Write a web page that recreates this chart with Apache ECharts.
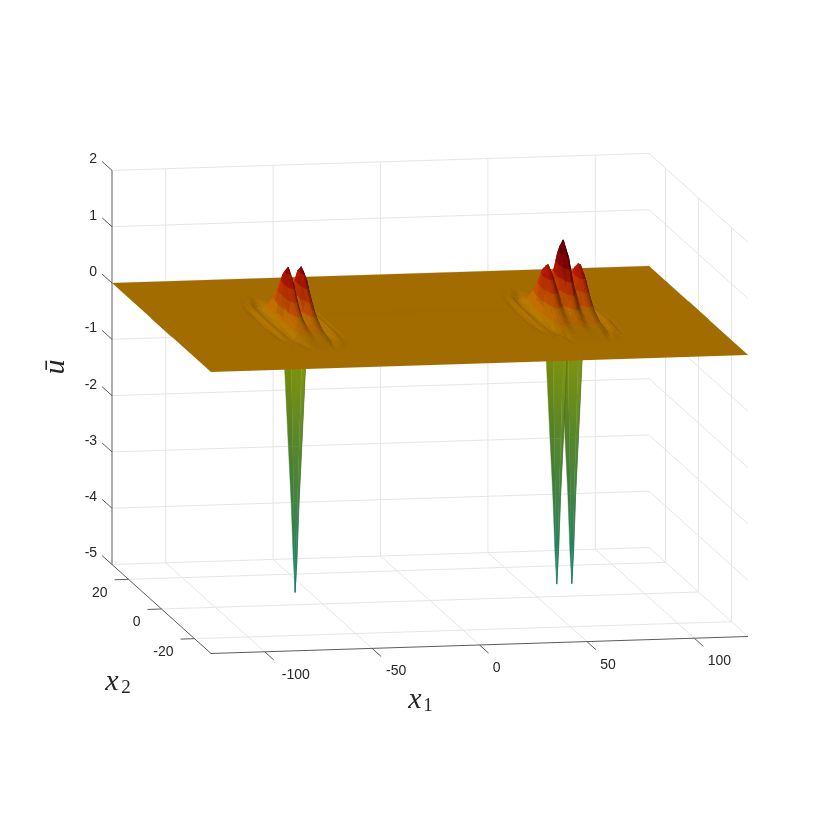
<!DOCTYPE html>
<html>
<head>
<meta charset="utf-8">
<script src="https://cdn.jsdelivr.net/npm/echarts@6/dist/echarts.min.js"></script>
<style>
  html, body { margin: 0; background: #fff; }
  #main { width: 830px; height: 830px; }
</style>
</head>
<body>
<div id="main"></div>
<script>
var x1Ticks = [-100, -50, 0, 50, 100];
var x1LabelNudge = [22, 15, 8, 12, 16];
var x2Ticks = [-20, 0, 20];
var uTicks = [-5, -4, -3, -2, -1, 0, 1, 2];

// pulse heights in hundredths of u.
// rows: |x2| = 0, 2, 4 ... 16, columns: |x1 - centre| = 0, 1, 2 ...
var leftCentre = -63;
var leftPulse = [
  [34, 52, 84, 100, 92, 70, 40, 16, 2, -4, -6, -1, 4, 4, -1, -4, -1],
  [30, 46, 74, 88, 82, 62, 36, 14, 1, -4, -6, -1, 4, 4, -1, -4, -1],
  [22, 33, 52, 62, 58, 46, 27, 11, 0, -4, -6, -1, 4, 4, -1, -3, -1],
  [16, 23, 33, 40, 38, 31, 20, 9, -1, -5, -5, 0, 4, 3, -2, -3, 0],
  [12, 16, 21, 24, 23, 19, 13, 6, -2, -6, -4, 1, 4, 2, -2, -2, 0],
  [9, 11, 13, 15, 14, 11, 8, 4, -3, -5, -3, 1, 3, 1, -2, -1, 0],
  [5, 6, 8, 9, 8, 6, 4, -2, -3, -4, -1, 2, 2, 0, -1, 0, 0],
  [3, 3, 4, 4, 4, 3, -2, -3, -2, 1, 2, 1, -1, 0, 0, 0, 0],
  [1, 1, 1, 1, 1, -1, -2, -1, 1, 1, 0, 0, 0, 0, 0, 0, 0]
];
var rightCentre = 62;
var rightPulse = [
  [133, 120, 92, 66, 56, 64, 80, 90, 88, 74, 50, 24, 6, -3, -5, -2, 3, 4, 0, -3, -1],
  [117, 106, 81, 58, 49, 56, 70, 79, 77, 65, 44, 21, 5, -3, -5, -2, 3, 4, 0, -3, -1],
  [82, 74, 57, 41, 35, 40, 50, 56, 55, 46, 31, 15, 3, -3, -6, -2, 3, 4, 0, -3, -1],
  [51, 46, 35, 26, 23, 26, 31, 35, 34, 29, 20, 10, 2, -3, -5, -1, 3, 3, -1, -2, 0],
  [29, 27, 21, 16, 14, 16, 19, 22, 21, 17, 12, 6, -1, -5, -4, 1, 3, 2, -2, -1, 0],
  [16, 15, 12, 10, 9, 10, 11, 13, 12, 10, 7, 4, -3, -5, -3, 1, 3, 1, -2, 0, 0],
  [9, 8, 7, 6, 5, 6, 7, 8, 7, 6, 4, -2, -4, -3, 1, 2, 1, -1, 0, 0, 0],
  [4, 4, 3, 3, 3, 3, 3, 4, 3, -2, -3, -2, 1, 2, 0, -1, 0, 0, 0, 0, 0],
  [1, 1, 1, 1, 1, 1, 1, 1, -1, -2, -1, 1, 1, 0, 0, 0, 0, 0, 0, 0, 0]
];

// the downward spikes under the sheet
var spikeCentres = [66, 59, -62.8];
var spikeDepth = [0, -0.8, -2.19, -3.18, -4.2, -4.78];
var spikeHalfWidth = [7, 4.9, 3.15, 1.86, 0.86, 0];

// view of the box, pixels per data unit
function project(x1, x2, u) {
  return [430 + 2.148 * x1 - 1.65 * x2, 319 - 0.068 * x1 - 1.483 * x2 - 56.3 * u];
}

function mix(stops, v) {
  if (v <= stops[0][0]) return stops[0].slice(1);
  for (var i = 1; i < stops.length; i++) {
    if (v <= stops[i][0]) {
      var t = (v - stops[i - 1][0]) / (stops[i][0] - stops[i - 1][0]);
      return [1, 2, 3].map(function (k) { return stops[i - 1][k] + (stops[i][k] - stops[i - 1][k]) * t; });
    }
  }
  return stops[stops.length - 1].slice(1);
}
function rgb(c, s) {
  return 'rgb(' + c.map(function (v) { return Math.min(255, Math.round(v * s)); }).join(',') + ')';
}
var warmStops = [[0, 163, 108, 0], [0.2, 172, 98, 0], [0.4, 180, 72, 0], [0.6, 180, 48, 0], [0.8, 165, 22, 0], [1.0, 135, 5, 5], [1.2, 105, 0, 8], [1.4, 85, 0, 8]];
var coldStops = [[-4.8, 25, 135, 112], [-4, 40, 130, 90], [-3, 70, 130, 60], [-2, 90, 135, 40], [-0.8, 125, 145, 15], [0, 163, 108, 0]];

// build the full grid from the pulse tables
var x1Grid = [-125];
for (var o = -16; o <= 16; o++) x1Grid.push(leftCentre + o);
for (o = -20; o <= 20; o++) x1Grid.push(rightCentre + o);
x1Grid.push(125);
var x2Grid = [30, 18];
for (var r = 16; r >= -16; r -= 2) x2Grid.push(r);
x2Grid.push(-18, -30);

function height(x1, x2) {
  var row = Math.abs(x2) / 2;
  if (row > 8) return 0;
  var a = Math.abs(x1 - leftCentre), b = Math.abs(x1 - rightCentre);
  if (a <= 16) return leftPulse[row][a] / 100;
  if (b <= 20) return rightPulse[row][b] / 100;
  return 0;
}

var quads = [];
for (var j = 0; j < x2Grid.length - 1; j++) {
  for (var i = x1Grid.length - 2; i >= 0; i--) quads.push([i, j]);
}

// keep the part of a polygon on one side of a height
function clipZ(poly, z, keepAbove) {
  var out = [];
  for (var n = 0; n < poly.length; n++) {
    var p = poly[n], q = poly[(n + 1) % poly.length];
    var pIn = keepAbove ? p[2] >= z : p[2] <= z, qIn = keepAbove ? q[2] >= z : q[2] <= z;
    if (pIn) out.push(p);
    if (pIn !== qIn) {
      var t = (z - p[2]) / (q[2] - p[2]);
      out.push([p[0] + (q[0] - p[0]) * t, p[1] + (q[1] - p[1]) * t, z]);
    }
  }
  return out;
}

var bandStep = 0.2;
function quadItem(params, api) {
  var q = quads[params.dataIndex], x0 = x1Grid[q[0]], x1 = x1Grid[q[0] + 1], y0 = x2Grid[q[1]], y1 = x2Grid[q[1] + 1];
  var a = height(x0, y0), b = height(x1, y0), c = height(x1, y1), d = height(x0, y1);
  if (a === 0 && b === 0 && c === 0 && d === 0) return null;
  var gx = ((b - a) + (c - d)) / 2 / (x1 - x0);
  var gy = ((a - d) + (b - c)) / 2 / (y0 - y1);
  var s;
  if (gx < 0) s = 1 + Math.max(3.5 * gx, -0.28) + 0.5 * Math.min(0, gx + 0.08);
  else s = 1 + Math.min(0.14, 2 * gx) * (gx > 0.2 ? 0.3 : 1);
  s -= 1.2 * Math.max(0, gy);
  s = Math.max(0.6, s);
  var children = [];
  [[[x0, y0, a], [x1, y0, b], [x1, y1, c]], [[x0, y0, a], [x1, y1, c], [x0, y1, d]]].forEach(function (tri) {
    var zs = tri.map(function (p) { return p[2]; });
    var kLo = Math.round(Math.min.apply(null, zs) / bandStep), kHi = Math.round(Math.max.apply(null, zs) / bandStep);
    for (var k = kLo; k <= kHi; k++) {
      var part = clipZ(clipZ(tri, (k - 0.5) * bandStep, true), (k + 0.5) * bandStep, false);
      if (part.length < 3) continue;
      var fill = rgb(mix(warmStops, k * bandStep), s);
      children.push({
        type: 'polygon',
        shape: { points: part.map(function (p) { return api.coord(project(p[0], p[1], p[2])); }) },
        style: { fill: fill, stroke: fill, lineWidth: 0.4 }
      });
    }
  });
  return { type: 'group', children: children };
}

var sheetCorners = [[-125, 30], [125, 30], [125, -30], [-125, -30]];
function sheetItem(params, api) {
  return {
    type: 'polygon',
    shape: { points: sheetCorners.map(function (p) { return api.coord(project(p[0], p[1], 0)); }) },
    style: { fill: 'rgb(163,108,0)' }
  };
}

// spike pieces: centre, level, strip across the width
var stripEdges = [-1, -0.35, 0.6, 0.95, 1];
var stripShade = [0.95, 1, 1.03, 0.8];
var spikePieces = [];
spikeCentres.forEach(function (c, ci) {
  for (var l = 0; l < spikeDepth.length - 1; l++) {
    for (var st = 0; st < stripShade.length; st++) spikePieces.push([ci, l, st]);
  }
});
function spikeItem(params, api) {
  var p = spikePieces[params.dataIndex], c = spikeCentres[p[0]], l = p[1], st = p[2];
  var u0 = spikeDepth[l], u1 = spikeDepth[l + 1], w0 = spikeHalfWidth[l], w1 = spikeHalfWidth[l + 1];
  var pts = [
    project(c + stripEdges[st] * w0, 0, u0), project(c + stripEdges[st + 1] * w0, 0, u0),
    project(c + stripEdges[st + 1] * w1, 0, u1), project(c + stripEdges[st] * w1, 0, u1)
  ].map(function (q) { return api.coord(q); });
  var g = new echarts.graphic.LinearGradient(0, 0, 0, 1, [
    { offset: 0, color: rgb(mix(coldStops, u0), stripShade[st]) },
    { offset: 1, color: rgb(mix(coldStops, u1), stripShade[st]) }
  ]);
  return { type: 'polygon', shape: { points: pts }, style: { fill: g, stroke: g, lineWidth: 0.4 } };
}

// box lines
var gridLines = [], axisLines = [];
x1Ticks.forEach(function (t) {
  gridLines.push([[t, 30, -5], [t, 30, 2]], [[t, 30, -5], [t, -30, -5]]);
  axisLines.push([[t, -30, -5], [t, -35.5, -5]]);
});
x2Ticks.forEach(function (t) {
  gridLines.push([[125, t, -5], [125, t, 2]], [[-125, t, -5], [125, t, -5]]);
  axisLines.push([[-125, t, -5], [-131.5, t, -5]]);
});
uTicks.forEach(function (t) {
  gridLines.push([[-125, 30, t], [125, 30, t]], [[125, 30, t], [125, -30, t]]);
  axisLines.push([[-125, 30, t], [-125, 36, t]]);
});
axisLines.push([[-125, 30, -5], [-125, 30, 2]], [[-125, 30, -5], [-125, -30, -5]], [[-125, -30, -5], [125, -30, -5]]);

function lineItem(lines, color) {
  return function (params, api) {
    var s = lines[params.dataIndex], a = api.coord(project.apply(null, s[0])), b = api.coord(project.apply(null, s[1]));
    return { type: 'line', shape: { x1: a[0], y1: a[1], x2: b[0], y2: b[1] }, style: { stroke: color, lineWidth: 1 } };
  };
}

// tick labels: 3D anchor, pixel nudge, alignment
var labels = [];
x1Ticks.forEach(function (t, n) { labels.push({ text: String(t), at: [t, -35.5, -5], dx: x1LabelNudge[n], dy: 15, align: 'center' }); });
x2Ticks.forEach(function (t) { labels.push({ text: String(t), at: [-131.5, t, -5], dx: -7, dy: 13, align: 'right' }); });
uTicks.forEach(function (t) { labels.push({ text: String(t), at: [-125, 36, t], dx: -5, dy: -2, align: 'right' }); });

function labelItem(params, api) {
  var l = labels[params.dataIndex], p = api.coord(project.apply(null, l.at));
  return {
    type: 'text', x: p[0] + l.dx, y: p[1] + l.dy,
    style: { text: l.text, font: '14px "Liberation Sans"', fill: '#262626', align: l.align, verticalAlign: 'middle' }
  };
}

var titles = [
  { text: 'x', x: 415, y: 700, size: 30, italic: true },
  { text: '1', x: 428, y: 706, size: 19 },
  { text: 'x', x: 112, y: 682, size: 30, italic: true },
  { text: '2', x: 126, y: 688, size: 19 },
  { text: 'ū', x: 56, y: 367, size: 30, italic: true, rotate: Math.PI / 2 }
];
function titleItem(params, api) {
  var t = titles[params.dataIndex], p = api.coord([t.x, t.y]);
  return {
    type: 'text', x: p[0], y: p[1], rotation: t.rotate || 0,
    style: { text: t.text, font: (t.italic ? 'italic ' : '') + t.size + 'px "Liberation Serif"', fill: '#262626', align: 'center', verticalAlign: 'middle' }
  };
}

function layer(list, fn, z) {
  return { type: 'custom', coordinateSystem: 'cartesian2d', data: list.map(function (v, i) { return [i]; }), renderItem: fn, silent: true, z: z, progressive: 0, animation: false, clip: false };
}

var myChart = echarts.init(document.getElementById('main'), null, { renderer: 'canvas' });
myChart.setOption({
  animation: false,
  backgroundColor: '#fff',
  grid: { left: 0, right: 0, top: 0, bottom: 0 },
  xAxis: { type: 'value', min: 0, max: 830, show: false },
  yAxis: { type: 'value', min: 0, max: 830, inverse: true, show: false },
  series: [
    layer(gridLines, lineItem(gridLines, '#e6e6e6'), 1),
    layer(axisLines, lineItem(axisLines, '#5c5c5c'), 2),
    layer(spikePieces, spikeItem, 3),
    layer([0], sheetItem, 4),
    layer(quads, quadItem, 5),
    layer(labels, labelItem, 6),
    layer(titles, titleItem, 6)
  ]
});
</script>
</body>
</html>
